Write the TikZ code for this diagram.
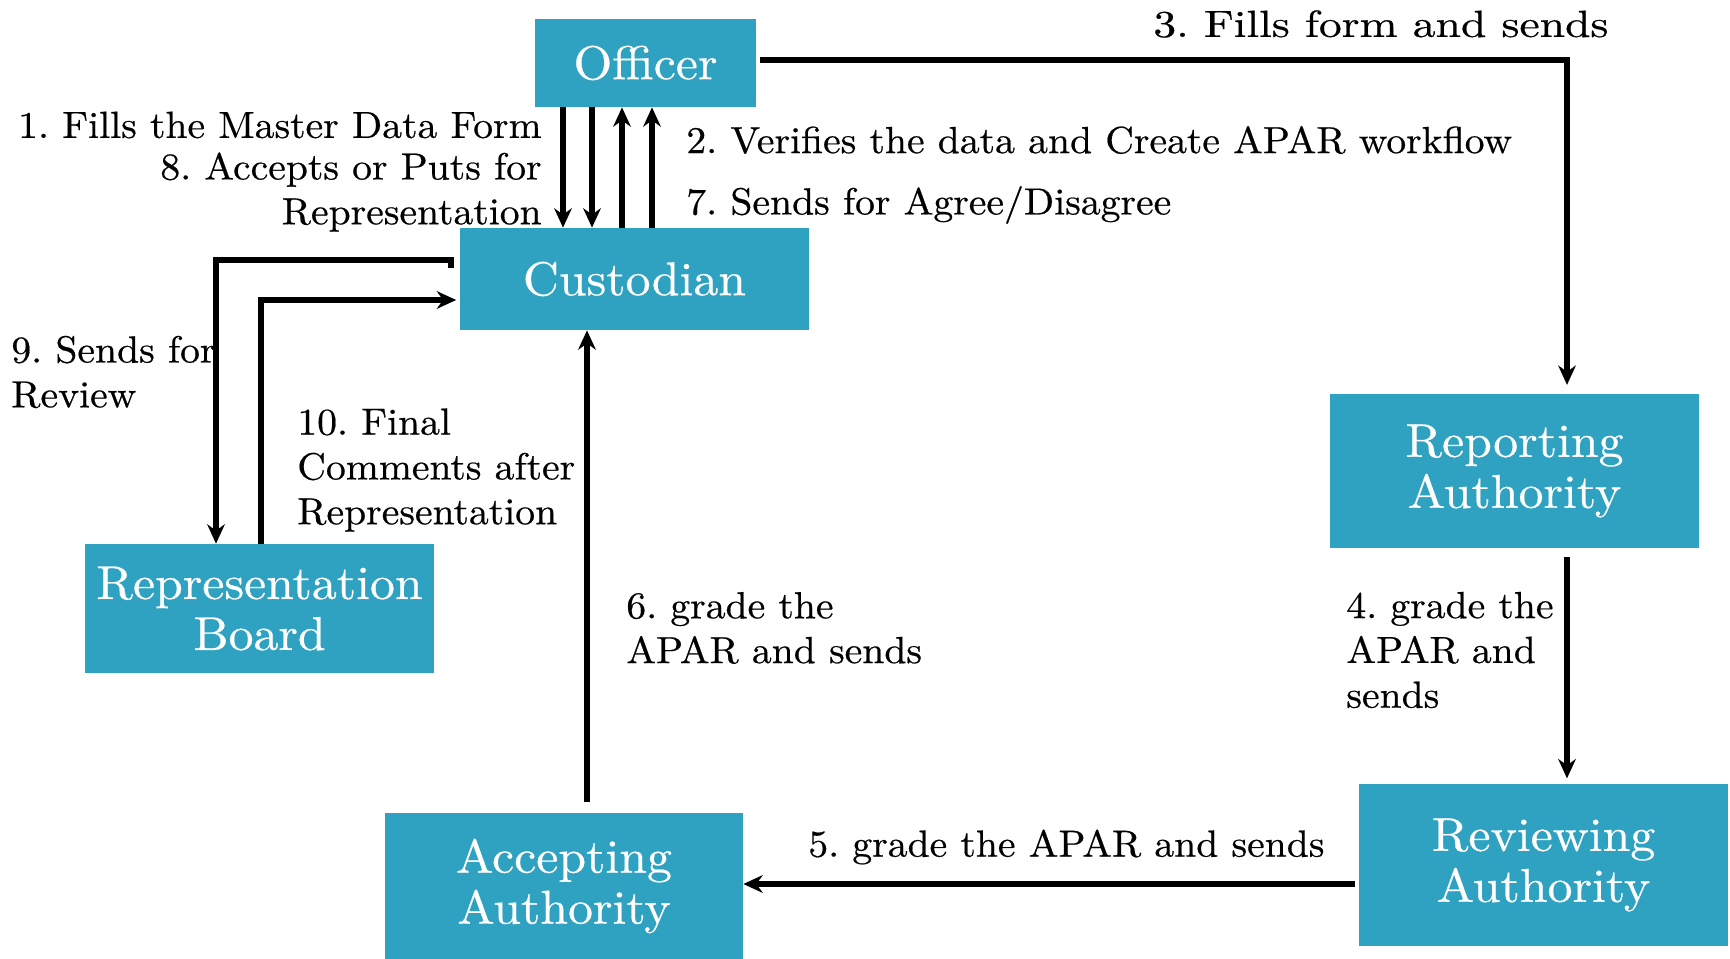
\documentclass[tikz,border=0pt]{standalone}
\usepackage{fontspec}
\setmainfont{lmroman10-regular.otf}[FakeStretch=1.05, FakeBold=0.5]
\usetikzlibrary{arrows.meta}
\definecolor{boxteal}{RGB}{46,162,192}
\tikzset{
  box/.style={fill=boxteal, draw=none, text=white, align=center, inner sep=0pt,
    font=\fontsize{27}{29}\selectfont},
  arr/.style={line width=3pt, -{Stealth[length=11pt,width=10pt]}},
  lbl/.style={inner sep=0pt, font=\fontsize{21.5}{25.5}\selectfont},
}
\frenchspacing
\begin{document}
\begin{tikzpicture}[x=0.02cm, y=-0.02cm]
\useasboundingbox (0,0) rectangle (1730,959);
% boxes
\node[box, minimum width=4.42cm, minimum height=1.76cm] (off) at (645.5,63) {Officer};
\node[box, minimum width=6.98cm, minimum height=2.04cm] (cust) at (634.5,279) {Custodian};
\node[box, minimum width=7.38cm, minimum height=3.08cm] (rep) at (1514.5,471) {Reporting\\Authority};
\node[box, minimum width=7.38cm, minimum height=3.24cm] (rev) at (1543.5,865) {Reviewing\\Authority};
\node[box, minimum width=7.16cm, minimum height=2.92cm] (acc) at (564,886) {Accepting\\Authority};
\node[box, minimum width=6.98cm, minimum height=2.58cm] (rb) at (259.5,608.5) {Representation\\Board};
% helper coordinates
\coordinate (c1) at (563,0);
\coordinate (c2) at (592,0);
\coordinate (c3) at (622,0);
\coordinate (c4) at (652,0);
\coordinate (cr) at (1567,0);
\coordinate (ca) at (587,0);
\coordinate (y5) at (0,884);
\coordinate (y3) at (0,60);
\coordinate (k1) at (451,268);
\coordinate (k2) at (216,260);
\coordinate (k3) at (261,300);
% officer <-> custodian
\draw[arr] (off.south -| c1) -- (cust.north -| c1);
\draw[arr] (off.south -| c2) -- (cust.north -| c2);
\draw[arr] (cust.north -| c3) -- (off.south -| c3);
\draw[arr] (cust.north -| c4) -- (off.south -| c4);
% officer -> reporting
\draw[arr, shorten >=5pt] ([xshift=2pt]off.east |- y3) -- (cr |- y3) -- (rep.north -| cr);
% reporting -> reviewing
\draw[arr, shorten <=5pt, shorten >=3pt] (rep.south -| cr) -- (rev.north -| cr);
% reviewing -> accepting
\draw[arr, shorten <=2pt] (rev.west |- y5) -- (acc.east |- y5);
% accepting -> custodian
\draw[arr, shorten <=6pt] (acc.north -| ca) -- (cust.south -| ca);
% custodian -> representation board
\draw[arr] (k1) -- (k1 |- k2) -- (k2) -- (rb.north -| k2);
% representation board -> custodian
\draw[arr, shorten >=2pt] (rb.north -| k3) -- (k3) -- (cust.west |- k3);
% labels
\node[lbl, anchor=east] (l1) at (542,125) {1. Fills the Master Data Form};
\node[lbl, anchor=east, align=right] (l8) at (542,192) {8. Accepts or Puts for\\Representation};
\node[lbl, anchor=west] (l2) at (686,140) {2. Verifies the data and Create APAR workflow};
\node[lbl, anchor=west] (l7) at (686,205) {7. Sends for Agree/Disagree};
\node[lbl, anchor=west] (l3) at (1153,24) {\scalebox{1.15}[1]{3. Fills form and sends}};
\node[lbl, anchor=west, align=left] (l9) at (11,372) {9. Sends for\\Review};
\node[lbl, anchor=west, align=left] (l10) at (297,470) {10. Final\\Comments after\\Representation};
\node[lbl, anchor=west, align=left] (l6) at (626,628) {6. grade the\\APAR and sends};
\node[lbl, anchor=west, align=left] (l4) at (1346,650) {4. grade the\\APAR and\\sends};
\node[lbl, anchor=west] (l5) at (808,847) {5. grade the APAR and sends};
\end{tikzpicture}
\end{document}
